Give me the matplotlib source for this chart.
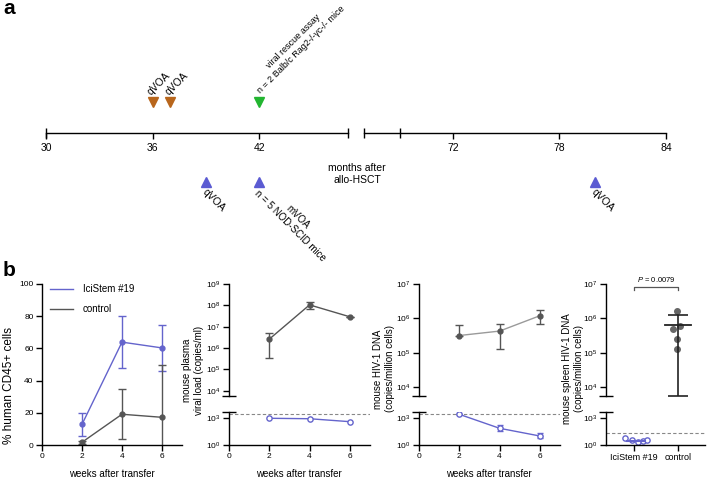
import matplotlib.pyplot as plt
from matplotlib.lines import Line2D
from matplotlib.ticker import FixedLocator, NullFormatter, FixedFormatter

plt.rcParams['font.family'] = ['Liberation Sans', 'DejaVu Sans']
plt.rcParams['mathtext.fontset'] = 'custom'
plt.rcParams['mathtext.rm'] = 'Liberation Sans'
plt.rcParams['mathtext.it'] = 'Liberation Sans:italic'
plt.rcParams['axes.linewidth'] = 1.0

BLUE = '#6464CC'
GRAY = '#555555'
LGRAY = '#9a9a9a'
ORANGE = '#B8661C'
GREEN = '#22B530'
TRI_BLUE = '#5B5BD2'

# ---- panel a: timeline ----
seg1 = (30, 47)
seg2 = (67, 84)
seg1_ticks = [30, 36, 42]
seg2_ticks = [72, 78, 84]
seg2_extra = [69]
top_months = [36, 37, 42]
top_colors = [ORANGE, ORANGE, GREEN]
top_labels = ['qVOA', 'qVOA', 'viral rescue assay\nn = 2 Balb/c Rag2-/-γc-/- mice']
bot_months = [39, 42, 80]
bot_labels = ['qVOA', 'mVOA\nn = 5 NOD-SCID mice', 'qVOA']

# ---- panel b data ----
weeks = [2, 4, 6]
cd45_ici = [12.8, 63.9, 60.3]
cd45_ici_sd = [7.0, 16.0, 14.4]
cd45_ctrl = [1.7, 19.1, 17.2]
cd45_ctrl_sd = [1.0, 15.5, 32.5]

pv_ctrl = [2.6e6, 1.05e8, 2.9e7]
pv_ctrl_lo = [3.4e5, 6.6e7, 2.9e7]
pv_ctrl_hi = [5.0e6, 1.5e8, 2.9e7]
pv_ici = [930, 830, 390]

dna_ctrl = [3.2e5, 4.3e5, 1.2e6]
dna_ctrl_lo = [3.2e5, 1.3e5, 7.0e5]
dna_ctrl_hi = [6.3e5, 7.0e5, 1.75e6]
dna_ici = [2570, 72, 10]
dna_ici_lo = [2570, 39, 5.5]
dna_ici_hi = [2570, 160, 20]

spl_groups = ['IciStem #19', 'control']
spl_ici = [5.5, 3.2, 2.4, 3.0, 3.4]
spl_ici_dx = [-0.2, -0.05, 0.08, 0.2, 0.3]
spl_ici_med = 3.0
spl_ctrl = [1.6e6, 4.8e5, 6.0e5, 2.5e5, 1.26e5]
spl_ctrl_dx = [-0.03, -0.10, 0.06, -0.03, -0.03]
spl_ctrl_mean = 6.3e5
spl_ctrl_err = (5.8e3, 1.26e6)
p_text = '$P$ = 0.0079'
lod_plasma = 2500
lod_dna = 2500
lod_spleen = 21

W, H = 707, 479
fig = plt.figure(figsize=(W / 100, H / 100), dpi=100)


def px_axes(x0, y0, x1, y1):
    ax = fig.add_axes([x0 / W, 1 - y1 / H, (x1 - x0) / W, (y1 - y0) / H])
    ax.patch.set_alpha(0)
    return ax


def timeline(ax, lim, ticks, caps):
    ax.set_xlim(*lim)
    ax.set_ylim(0, 1)
    for s in ['left', 'right', 'top']:
        ax.spines[s].set_visible(False)
    ax.set_yticks([])
    ax.set_xticks(ticks)
    ax.set_xticklabels([str(t) for t in ticks], fontsize=7.5)
    ax.xaxis.remove_overlapping_locs = False
    ax.set_xticks(caps, minor=True)
    ax.tick_params(axis='x', which='major', direction='out', length=4, width=1, pad=3)
    ax.tick_params(axis='x', which='minor', direction='inout', length=7, width=1)


ta1 = px_axes(46, 33, 348, 133)
ta2 = px_axes(364, 33, 666, 133)
timeline(ta1, seg1, seg1_ticks, [seg1[0], seg1[1]])
timeline(ta2, seg2, seg2_ticks, [seg2[0]] + seg2_extra)


def pick(m):
    return ta1 if m <= seg1[1] else ta2


for m, c, lab in zip(top_months, top_colors, top_labels):
    ax = pick(m)
    tr = ax.get_xaxis_transform()
    ax.plot([m], [0.31], marker='v', color=c, ms=7, transform=tr, clip_on=False)
    if '\n' not in lab:
        ax.annotate(lab, xy=(m, 0.31), xycoords=tr, xytext=(0, 5),
                    textcoords='offset pixels', rotation=45, rotation_mode='anchor',
                    ha='left', va='bottom', fontsize=7.5)
    else:
        # two centred lines, placed one by one
        for line, off in zip(lab.split('\n'), [(34, 61), (41.5, 52.5)]):
            ax.annotate(line, xy=(m, 0.31), xycoords=tr, xytext=off,
                        textcoords='offset pixels', rotation=45, rotation_mode='anchor',
                        ha='center', va='center', fontsize=6.5)

for m, lab in zip(bot_months, bot_labels):
    ax = pick(m)
    tr = ax.get_xaxis_transform()
    ax.plot([m], [-0.49], marker='^', color=TRI_BLUE, ms=7, transform=tr, clip_on=False)
    multi = '\n' in lab
    ax.annotate(lab, xy=(m, -0.49), xycoords=tr, xytext=(8, 2) if multi else (2, -5),
                textcoords='offset pixels', rotation=-45, rotation_mode='anchor',
                ha='left', va='top', multialignment='center',
                fontsize=7 if multi else 7.5, linespacing=1.15)

fig.text(357 / W, 1 - 174 / H, 'months after\nallo-HSCT', ha='center', va='center',
         fontsize=7.5, linespacing=1.3)
fig.text(3 / W, 1 - 8 / H, 'a', fontsize=15, fontweight='bold', va='center')
fig.text(3 / W, 1 - 270 / H, 'b', fontsize=15, fontweight='bold', va='center')


def style(ax):
    ax.spines['top'].set_visible(False)
    ax.spines['right'].set_visible(False)
    ax.tick_params(labelsize=6, length=4, width=1, pad=2)


# ---- b1 ----
b1 = px_axes(42, 284, 182, 445)
style(b1)
b1.errorbar(weeks, cd45_ici, yerr=cd45_ici_sd, color=BLUE, marker='o', ms=3.5,
            capsize=3, lw=1, elinewidth=1, capthick=1)
b1.errorbar(weeks, cd45_ctrl, yerr=cd45_ctrl_sd, color=GRAY, marker='o', ms=3.5,
            capsize=3, lw=1, elinewidth=1, capthick=1)
b1.set_xlim(0, 7)
b1.set_ylim(0, 100)
b1.set_xticks([0, 2, 4, 6])
b1.set_yticks([0, 20, 40, 60, 80, 100])
handles = [Line2D([], [], color=BLUE, lw=1), Line2D([], [], color=GRAY, lw=1)]
b1.legend(handles, ['IciStem #19', 'control'], loc='upper left', bbox_to_anchor=(8 / 140, 1.0),
          frameon=False, fontsize=7, handlelength=2.4, handletextpad=1.0, labelspacing=1.05,
          borderpad=0, borderaxespad=0)
fig.text(9 / W, 1 - 385 / H, '% human CD45+ cells', rotation=90, ha='center', va='center',
         fontsize=8.5)
fig.text(112 / W, 1 - 474 / H, 'weeks after transfer', ha='center', va='center', fontsize=7)

UP_LO = 10 ** 3.75
LO_HI = 10 ** (33 / 9)


def broken(x0, x1, top_exp, xlim):
    up = px_axes(x0, 284, x1, 396)
    lo = px_axes(x0, 412, x1, 445)
    for ax in (up, lo):
        style(ax)
        ax.set_yscale('log')
        ax.set_xlim(*xlim)
    up.spines['bottom'].set_visible(False)
    up.tick_params(axis='x', which='both', bottom=False, labelbottom=False)
    up.set_ylim(UP_LO, 10 ** top_exp)
    exps = list(range(4, top_exp + 1))
    up.yaxis.set_major_locator(FixedLocator([10 ** e for e in exps]))
    up.yaxis.set_major_formatter(FixedFormatter(['$10^{%d}$' % e for e in exps]))
    up.yaxis.set_minor_locator(FixedLocator([UP_LO]))
    up.yaxis.set_minor_formatter(NullFormatter())
    lo.set_ylim(1, LO_HI)
    lo.yaxis.set_major_locator(FixedLocator([1, 1000]))
    lo.yaxis.set_major_formatter(FixedFormatter(['$10^{0}$', '$10^{3}$']))
    lo.yaxis.set_minor_locator(FixedLocator([LO_HI]))
    lo.yaxis.set_minor_formatter(NullFormatter())
    for ax in (up, lo):
        ax.tick_params(axis='y', which='minor', direction='inout', length=10, width=1)
    return up, lo


def yerr(vals, lo, hi):
    return [[v - l for v, l in zip(vals, lo)], [h - v for v, h in zip(vals, hi)]]


# ---- b2 ----
u2, l2 = broken(229, 370, 9, (0, 7))
u2.errorbar(weeks, pv_ctrl, yerr=yerr(pv_ctrl, pv_ctrl_lo, pv_ctrl_hi), color=GRAY, marker='o',
            ms=3.5, capsize=3, lw=1, elinewidth=1, capthick=1)
l2.plot(weeks, pv_ici, color=BLUE, marker='o', ms=3.8, mfc='white', mew=1, lw=1)
l2.axhline(lod_plasma, color='#888888', lw=0.8, ls=(0, (3, 2)))
l2.set_xticks([0, 2, 4, 6])
fig.text(193.5 / W, 1 - 370 / H, 'mouse plasma\nviral load (copies/ml)', rotation=90,
         ha='center', va='center', fontsize=7, multialignment='center', linespacing=1.25)
fig.text(299 / W, 1 - 474 / H, 'weeks after transfer', ha='center', va='center', fontsize=7)

# ---- b3 ----
u3, l3 = broken(419, 560, 7, (0, 7))
u3.plot(weeks, dna_ctrl, color=LGRAY, lw=1)
u3.errorbar(weeks, dna_ctrl, yerr=yerr(dna_ctrl, dna_ctrl_lo, dna_ctrl_hi), color=GRAY, marker='o',
            ms=3.5, capsize=3, lw=0, elinewidth=1, capthick=1)
l3.errorbar(weeks, dna_ici, yerr=yerr(dna_ici, dna_ici_lo, dna_ici_hi), color=BLUE, marker='o',
            ms=3.8, mfc='white', mew=1, capsize=2.5, lw=1, elinewidth=1, capthick=1)
l3.axhline(lod_dna, color='#888888', lw=0.8, ls=(0, (3, 2)))
l3.set_xticks([0, 2, 4, 6])
fig.text(384.5 / W, 1 - 369 / H, 'mouse HIV-1 DNA\n(copies/million cells)', rotation=90,
         ha='center', va='center', fontsize=7, multialignment='center', linespacing=1.25)
fig.text(489 / W, 1 - 474 / H, 'weeks after transfer', ha='center', va='center', fontsize=7)

# ---- b4 ----
u4, l4 = broken(606, 705, 7, (-0.64, 1.62))
l4.plot([0 + d for d in spl_ici_dx], spl_ici, ls='none', marker='o', ms=3.8, mfc='white',
        mec=BLUE, mew=1)
l4.plot([-0.15, 0.25], [spl_ici_med, spl_ici_med], color=BLUE, lw=1.5)
u4.plot([1 + d for d in spl_ctrl_dx], spl_ctrl, ls='none', marker='o', ms=4, color='#666666')
u4.plot([0.7, 1.3], [spl_ctrl_mean, spl_ctrl_mean], color='#222222', lw=1.3)
u4.errorbar([1], [spl_ctrl_mean], yerr=[[spl_ctrl_mean - spl_ctrl_err[0]],
                                         [spl_ctrl_err[1] - spl_ctrl_mean]],
            color='#222222', lw=0, elinewidth=1.2, capsize=7, capthick=1.2)
l4.axhline(lod_spleen, color='#888888', lw=0.8, ls=(0, (3, 2)))
l4.set_xticks([0, 1])
l4.set_xticklabels(spl_groups)
l4.tick_params(axis='x', labelsize=6.5)
tr = u4.get_xaxis_transform()
u4.plot([0, 0, 1, 1], [0.945, 0.973, 0.973, 0.945], color='#555555', lw=0.9, transform=tr,
        clip_on=False)
u4.text(0.5, 1.036, p_text, transform=tr, ha='center', va='center', fontsize=5.5)
fig.text(572.5 / W, 1 - 369 / H, 'mouse spleen HIV-1 DNA\n(copies/million cells)', rotation=90,
         ha='center', va='center', fontsize=7, multialignment='center', linespacing=1.25)

fig.savefig('out.png', dpi=100)
